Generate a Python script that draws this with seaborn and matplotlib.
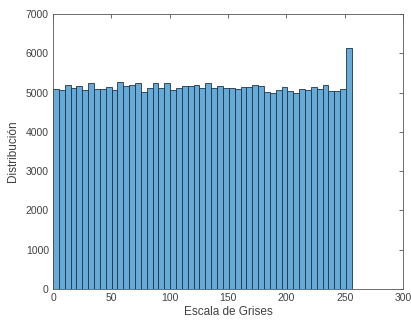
import numpy as np
import pandas as pd
import matplotlib
matplotlib.use("Agg")
import matplotlib.pyplot as plt
import seaborn as sns

# Histogram counts (51 bins over gray levels 0..256)
counts = [5085, 5059, 5186, 5127, 5161, 5059, 5245, 5093, 5085, 5135,
          5068, 5270, 5169, 5203, 5237, 5025, 5127, 5245, 5127, 5237,
          5059, 5127, 5177, 5177, 5203, 5127, 5237, 5110, 5169, 5127,
          5127, 5093, 5152, 5152, 5194, 5169, 5025, 5000, 5068, 5152,
          5042, 4992, 5085, 5076, 5144, 5093, 5203, 5042, 5042, 5101,
          6140]
bin_width = 256 / len(counts)
centers = np.arange(len(counts)) * bin_width + bin_width / 2
xticks = [0, 50, 100, 150, 200, 250, 300]
yticks = [0, 1000, 2000, 3000, 4000, 5000, 6000, 7000]

df = pd.DataFrame({"nivel": centers, "cuenta": counts})

sns.set_style("white")
plt.rcParams["font.family"] = ["Liberation Sans", "DejaVu Sans"]

fig = plt.figure(figsize=(4.11, 3.22), dpi=100)
ax = fig.add_axes([0.129, 0.1025, 0.852, 0.854])

sns.histplot(data=df, x="nivel", weights="cuenta", binwidth=bin_width,
             binrange=(0, 256), ax=ax,
             color="#66aad7", alpha=1.0, edgecolor="#1f3347", linewidth=0.6)

ax.set_xlim(0, 300)
ax.set_ylim(0, 7000)
ax.set_xticks(xticks)
ax.set_yticks(yticks)
ax.tick_params(direction="in", length=3, width=0.6, colors="#555555",
               labelsize=7.5, labelcolor="#404040", pad=3,
               top=True, right=True)
for s in ax.spines.values():
    s.set_color("#555555")
    s.set_linewidth(0.6)
ax.set_xlabel("Escala de Grises", fontsize=8.5, color="#404040", labelpad=2)
ax.set_ylabel("Distribución", fontsize=8.5, color="#404040", labelpad=5)

fig.savefig("out.png", dpi=100)
